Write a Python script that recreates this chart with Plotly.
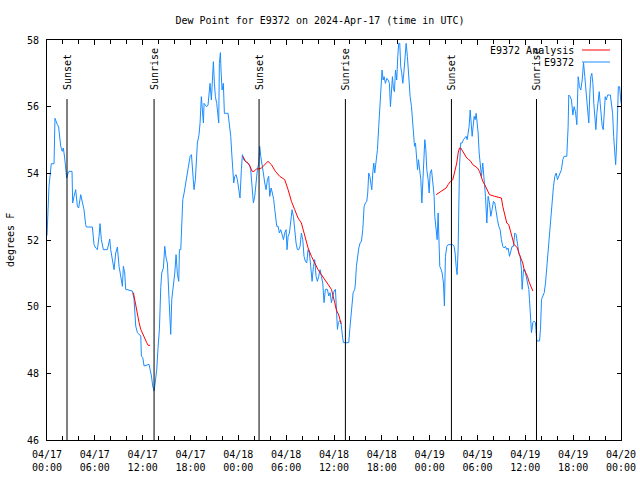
import pandas as pd
import plotly.graph_objects as go

BASE = pd.Timestamp("2024-04-17 00:00")

# Observed dew point (E9372): hours since 2024-04-17 00:00 UTC, degrees F
obs_hours = [
    0.00, 0.13, 0.25, 0.54, 0.88, 1.00, 1.13, 1.30, 1.46, 1.72, 1.92, 2.05, 2.22, 2.34, 2.47, 2.64,
    2.76, 3.14, 3.22, 3.39, 3.60, 3.81, 3.97, 4.23, 4.44, 4.64, 4.85, 4.94, 5.69, 5.90, 6.11, 6.32,
    6.53, 6.65, 6.82, 7.07, 7.57, 7.87, 7.99, 8.20, 8.41, 8.62, 8.83, 9.04, 9.25, 9.46, 9.58, 9.75,
    9.87, 10.71, 10.92, 11.13, 11.34, 11.76, 11.84, 12.01, 12.18, 12.80, 12.93, 13.10, 13.26, 13.43,
    13.60, 13.77, 13.93, 14.10, 14.27, 14.39, 14.60, 14.77, 14.94, 15.10, 15.31, 15.44, 15.52, 15.65,
    15.86, 16.03, 16.19, 16.36, 16.53, 16.61, 16.78, 16.90, 17.03, 17.20, 17.41, 17.62, 17.78, 17.95,
    18.12, 18.32, 18.44, 18.61, 18.74, 18.86, 19.07, 19.20, 19.36, 19.53, 19.62, 19.70, 19.87, 20.03,
    20.20, 20.33, 20.45, 20.62, 20.74, 20.87, 21.00, 21.12, 21.29, 21.41, 21.54, 21.62, 21.75, 21.83,
    21.96, 22.12, 22.25, 22.71, 22.88, 23.05, 23.17, 23.30, 23.42, 23.55, 23.71, 23.88, 24.05, 24.21,
    24.38, 24.51, 24.67, 24.88, 25.14, 25.39, 25.55, 25.72, 25.89, 26.06, 26.22, 26.39, 26.56, 26.68,
    26.81, 26.98, 27.14, 27.31, 27.48, 27.65, 27.81, 27.94, 28.11, 28.27, 28.44, 28.57, 28.69, 28.82,
    28.99, 29.15, 29.32, 29.49, 29.66, 29.82, 29.99, 30.11, 30.24, 30.41, 30.57, 30.74, 30.91, 31.07,
    31.24, 31.41, 31.58, 31.74, 31.91, 32.08, 32.24, 32.41, 32.58, 32.75, 32.91, 33.08, 33.25, 33.42,
    33.58, 33.75, 33.92, 34.08, 34.25, 34.42, 34.59, 34.75, 34.92, 35.17, 35.34, 35.51, 35.68, 35.85,
    36.01, 36.18, 36.30, 36.43, 36.55, 36.68, 36.85, 36.93, 37.06, 37.18, 37.85, 37.98, 38.10, 38.27,
    38.40, 38.60, 38.69, 38.81, 38.94, 39.11, 39.27, 39.44, 39.61, 39.78, 39.94, 40.11, 40.23, 40.36,
    40.49, 40.61, 40.74, 40.86, 40.99, 41.11, 41.28, 41.45, 41.61, 41.78, 41.95, 42.03, 42.16, 42.28,
    42.45, 42.62, 42.79, 42.95, 43.08, 43.20, 43.33, 43.45, 43.58, 43.71, 43.87, 44.00, 44.12, 44.25,
    44.37, 44.50, 44.63, 44.79, 44.92, 45.05, 45.21, 45.38, 45.55, 45.72, 45.85, 45.97, 46.10, 46.22,
    46.35, 46.48, 46.60, 46.73, 46.89, 47.02, 47.14, 47.27, 47.39, 47.52, 47.64, 47.81, 47.94, 48.06,
    48.23, 48.40, 48.56, 48.64, 48.81, 48.94, 49.06, 49.14, 49.27, 49.44, 49.56, 49.73, 49.85, 49.98,
    50.15, 50.31, 50.90, 51.07, 51.19, 51.32, 51.44, 51.57, 51.65, 51.74, 51.90, 52.07, 52.24, 52.40,
    52.57, 52.70, 52.83, 52.95, 53.08, 53.20, 53.33, 53.45, 53.58, 53.71, 53.83, 53.96, 54.08, 54.21,
    54.33, 54.50, 54.66, 54.83, 55.00, 55.17, 55.33, 55.50, 55.67, 55.83, 56.00, 56.17, 56.34, 56.50,
    56.67, 56.84, 57.00, 57.17, 57.34, 57.51, 57.67, 57.84, 58.01, 58.18, 58.34, 58.51, 58.68, 58.85,
    59.01, 59.18, 59.35, 59.51, 59.60, 59.77, 59.94, 60.10, 60.27, 60.44, 60.52, 60.64, 60.77, 60.94,
    61.11, 61.27, 61.36, 61.44, 61.78, 61.90, 62.03, 62.20, 62.37, 62.53, 62.70, 62.87, 63.03, 63.20,
    63.37, 63.53, 63.70, 63.87, 64.03, 64.20, 64.37, 64.53, 64.70, 64.87, 65.20, 65.37, 65.45, 65.62,
    65.79, 65.96, 66.12, 66.29, 66.46, 66.63, 66.79, 66.96, 67.13, 67.30, 67.46, 67.63, 67.80, 67.96,
    68.09, 68.21, 68.34, 68.47, 68.59, 68.72, 68.85, 68.97, 69.14, 69.27, 69.39, 69.52, 69.64, 69.77,
    69.90, 70.02, 70.15, 70.32, 70.66, 70.83, 70.95, 71.08, 71.21, 71.33, 71.46, 71.58, 71.67, 71.83,
    71.92, 72.00,
]
obs_dewpt = [
    52.13, 52.91, 53.61, 54.29, 54.29, 55.65, 55.55, 55.46, 55.39, 54.81, 54.66, 54.76, 54.46, 54.21, 53.86, 54.01,
    54.06, 54.06, 53.11, 53.31, 53.51, 53.01, 52.96, 53.36, 53.11, 52.91, 52.46, 52.39, 52.39, 51.86, 51.76, 51.71,
    52.11, 52.49, 52.01, 51.71, 51.71, 52.03, 51.71, 51.36, 51.11, 51.61, 51.79, 51.21, 50.96, 50.61, 51.21, 51.01,
    50.52, 50.47, 50.22, 49.42, 49.22, 49.12, 48.52, 48.47, 48.22, 48.27, 48.12, 47.92, 47.62, 47.47,
    47.77, 48.12, 48.77, 49.32, 50.57, 51.01, 51.16, 51.81, 51.46, 51.31, 50.22, 49.62, 49.17, 50.22,
    50.61, 51.01, 51.56, 50.96, 50.76, 51.71, 51.71, 52.41, 53.21, 53.41, 53.71, 54.01, 54.21, 54.51,
    54.56, 53.81, 53.51, 53.81, 54.41, 54.91, 55.16, 55.51, 56.30, 55.80, 55.51, 56.10, 56.05, 56.00,
    56.05, 56.30, 56.70, 56.20, 57.00, 57.35, 56.70, 56.30, 56.10, 55.70, 55.51, 57.30, 57.62, 57.10,
    56.50, 56.70, 55.80, 55.80, 55.41, 55.11, 54.61, 54.01, 53.71, 53.91, 53.96, 53.81, 53.51, 53.26,
    54.11, 54.56, 54.41, 54.36, 54.31, 54.26, 54.11, 53.71, 53.11, 53.31, 53.81, 54.11, 54.31, 54.81,
    54.51, 54.31, 54.01, 53.71, 53.51, 53.81, 53.91, 53.31, 53.56, 53.41, 53.21, 52.91, 52.61, 52.41,
    52.41, 52.21, 52.31, 52.11, 52.01, 52.21, 52.31, 51.71, 52.11, 52.21, 52.51, 52.91, 52.71, 52.31,
    51.91, 51.71, 51.71, 51.81, 52.21, 52.01, 51.51, 51.36, 51.31, 51.71, 51.61, 51.21, 50.76, 51.21,
    51.41, 50.91, 50.76, 50.91, 51.11, 50.91, 50.71, 50.12, 50.52, 50.52, 50.32, 50.42, 50.12, 50.32,
    50.47, 50.52, 49.82, 49.32, 49.52, 49.57, 49.57, 49.32, 49.12, 48.92, 48.92, 49.32, 49.72, 50.12,
    50.42, 50.52, 50.71, 51.21, 51.51, 51.76, 51.91, 51.96, 52.31, 53.01, 53.11, 53.16, 53.41, 54.01,
    53.91, 53.71, 53.51, 54.01, 54.31, 54.01, 54.31, 54.71, 55.41, 56.00, 56.60, 57.10, 56.80, 56.90,
    56.70, 56.85, 56.80, 56.70, 56.00, 56.40, 56.90, 56.55, 56.45, 57.10, 56.80, 57.50, 57.90, 57.90,
    57.20, 57.00, 56.70, 57.10, 57.50, 57.90, 57.50, 56.80, 56.30, 56.00, 55.61, 55.01, 54.81, 54.91,
    54.31, 54.11, 54.41, 54.11, 53.81, 53.11, 53.71, 54.41, 55.01, 54.71, 54.11, 53.81, 53.41, 54.01,
    54.11, 53.71, 53.31, 52.71, 52.31, 52.01, 52.81, 52.11, 51.21, 51.11, 51.01, 50.71, 50.02, 51.51,
    51.81, 51.86, 51.86, 51.81, 51.61, 51.21, 50.96, 51.71, 53.21, 54.21, 54.91, 54.91, 55.01, 55.06,
    55.11, 55.01, 55.16, 55.41, 55.90, 55.51, 55.11, 55.41, 55.71, 55.61, 55.80, 55.51, 55.21, 54.61,
    54.21, 53.91, 54.31, 53.81, 53.31, 52.51, 53.31, 53.11, 52.71, 52.91, 53.16, 53.11, 52.81, 52.61,
    52.41, 52.31, 52.01, 51.81, 51.76, 51.81, 51.71, 51.76, 51.51, 51.71, 51.81, 51.81, 52.21, 52.16,
    51.81, 51.61, 51.51, 51.11, 50.52, 51.11, 51.11, 50.91, 50.71, 50.52, 50.22, 49.52, 49.22, 49.52,
    49.57, 49.52, 49.32, 48.97, 48.97, 49.32, 50.22, 50.32, 50.42, 50.71, 51.21, 51.81, 52.21, 52.91,
    53.31, 53.61, 53.91, 54.01, 53.81, 53.91, 54.01, 54.11, 54.41, 54.51, 54.51, 55.41, 56.35, 56.30,
    56.20, 55.75, 56.00, 55.85, 55.46, 56.90, 56.60, 56.50, 56.80, 57.32, 56.90, 56.50, 56.10, 55.51,
    56.40, 56.90, 57.00, 56.70, 56.10, 55.80, 55.31, 55.80, 56.30, 56.45, 56.10, 55.70, 55.41, 55.31,
    56.10, 56.30, 56.20, 56.35, 56.35, 56.10, 55.80, 55.11, 54.61, 54.26, 54.91, 56.10, 56.60, 56.60,
    56.10, 56.10,
]

# Analysis (E9372 Analysis): three segments separated by None
ana_hours = [
    10.84, 11.13, 11.34, 11.55, 11.76, 12.01, 12.26, 12.51, 12.68, 12.93, None,
    24.59, 24.88, 25.22, 25.47, 25.72, 25.97, 26.27, 26.56, 26.89, 27.31, 27.73, 28.15, 28.65, 29.19,
    29.82, 30.24, 30.66, 31.07, 31.49, 31.91, 32.33, 32.75, 33.17, 33.58, 34.00, 34.42, 34.84, 35.26,
    35.68, 36.09, 36.30, 36.60, 36.89, None,
    48.81, 49.14, 49.48, 49.81, 50.06, 50.31, 50.61, 50.90, 51.07, 51.23, 51.40, 51.57, 51.74, 51.90,
    52.15, 52.40, 52.65, 52.91, 53.16, 53.41, 53.75, 54.00, 54.25, 54.41, 54.66, 54.91, 55.17, 55.50,
    56.17, 56.84, 57.00, 57.17, 57.34, 57.51, 57.67, 57.92, 58.09, 58.26, 58.43, 58.59, 58.85, 59.01,
    59.18, 59.35, 59.51, 59.68, 59.85, 60.10, 60.27, 60.44, 60.60, 60.77, 60.94,
]
ana_dewpt = [
    50.42, 50.02, 49.72, 49.52, 49.32, 49.17, 49.02, 48.92, 48.84, 48.84, None,
    54.51, 54.36, 54.31, 54.21, 54.06, 54.06, 54.13, 54.13, 54.16, 54.26, 54.36, 54.26, 54.06, 53.91,
    53.81, 53.51, 53.16, 52.91, 52.66, 52.51, 52.11, 51.76, 51.51, 51.31, 51.11, 50.96, 50.81, 50.66,
    50.52, 50.12, 49.90, 49.75, 49.48, None,
    53.36, 53.41, 53.46, 53.51, 53.56, 53.66, 53.76, 53.81, 53.96, 54.16, 54.31, 54.61, 54.76, 54.76,
    54.66, 54.56, 54.46, 54.41, 54.36, 54.26, 54.21, 54.16, 54.06, 53.91, 53.76, 53.66, 53.51, 53.36,
    53.31, 53.26, 53.26, 53.01, 52.81, 52.66, 52.51, 52.46, 52.31, 52.11, 51.96, 51.86, 51.81, 51.76,
    51.61, 51.51, 51.41, 51.31, 51.11, 51.01, 50.91, 50.76, 50.66, 50.57, 50.47,
]

# Sun events (hours since 2024-04-17 00:00 UTC)
sun_hours = [2.51, 13.43, 26.60, 37.43, 50.73, 61.40]
sun_labels = ["Sunset", "Sunrise", "Sunset", "Sunrise", "Sunset", "Sunrise"]

y_ticks = [46, 48, 50, 52, 54, 56, 58]


def to_time(hours):
    return [None if h is None else BASE + pd.Timedelta(hours=h) for h in hours]


FONT = "DejaVu Sans Mono"
BLUE = "#1a8cff"
RED = "#ff0000"

fig = go.Figure()
fig.add_trace(go.Scatter(x=to_time(obs_hours), y=obs_dewpt, mode="lines",
                         line=dict(color=BLUE, width=1), name="E9372", showlegend=False))
fig.add_trace(go.Scatter(x=to_time(ana_hours), y=ana_dewpt, mode="lines",
                         line=dict(color=RED, width=1), name="E9372 Analysis",
                         showlegend=False, connectgaps=False))

L, R, T, B = 47, 19, 40, 40
W, H = 640, 480
pw, ph = W - L - R, H - T - B

shapes = []
annotations = []
line_top = (440 - 99) / ph
for h, lab in zip(sun_hours, sun_labels):
    t = BASE + pd.Timedelta(hours=h)
    shapes.append(dict(type="line", xref="x", yref="paper", x0=t, x1=t, y0=0, y1=line_top,
                       line=dict(color="black", width=1)))
    annotations.append(dict(x=t, xref="x", y=(440 - 92) / ph, yref="paper", text=lab,
                            textangle=-90, showarrow=False, xanchor="center", yanchor="bottom",
                            font=dict(family=FONT, size=10, color="black")))

# legend (gnuplot style: text then line sample)
leg = [("E9372 Analysis", RED, 50), ("E9372", BLUE, 62)]
for text, col, ypx in leg:
    yp = (440 - ypx) / ph
    annotations.append(dict(x=(576 - L) / pw, xref="paper", y=yp, yref="paper", text=text,
                            showarrow=False, xanchor="right", yanchor="middle",
                            font=dict(family=FONT, size=10, color="black")))
    shapes.append(dict(type="line", xref="paper", yref="paper", x0=(582 - L) / pw,
                       x1=(610 - L) / pw, y0=yp, y1=yp, line=dict(color=col, width=1)))

# y-axis title as rotated text
annotations.append(dict(x=(10 - L) / pw, xref="paper", y=0.5, yref="paper", text="degrees F",
                        textangle=-90, showarrow=False, xanchor="center", yanchor="middle",
                        font=dict(family=FONT, size=10, color="black")))

fig.update_layout(
    width=W, height=H,
    margin=dict(l=L, r=R, t=T, b=B, pad=0, autoexpand=False),
    paper_bgcolor="white", plot_bgcolor="white",
    font=dict(family=FONT, size=10, color="black"),
    title=dict(text="Dew Point for E9372 on 2024-Apr-17 (time in UTC)", x=0.5, xanchor="center",
               y=1 - 20 / H, yanchor="middle", font=dict(family=FONT, size=10)),
    shapes=shapes, annotations=annotations,
    showlegend=False,
)
fig.update_xaxes(
    type="date", range=[BASE, BASE + pd.Timedelta(hours=72)],
    tick0=BASE, dtick=6 * 3600 * 1000, tickformat="%m/%d<br>%H:%M",
    ticks="inside", ticklen=5, tickcolor="black", showline=True, linecolor="black", linewidth=1,
    mirror="allticks", showgrid=False, zeroline=False, automargin=False,
    minor=dict(dtick=2 * 3600 * 1000, tick0=BASE, ticks="inside", ticklen=4, tickcolor="black",
               showgrid=False),
    tickfont=dict(family=FONT, size=10), ticklabelstandoff=5,
)
fig.update_yaxes(
    range=[46, 58], tickvals=y_ticks, ticktext=[str(v) for v in y_ticks],
    ticks="inside", ticklen=4, tickcolor="black", showline=True, linecolor="black", linewidth=1,
    mirror="allticks", showgrid=False, zeroline=False, automargin=False,
    tickfont=dict(family=FONT, size=10), ticklabelstandoff=5,
)

fig.write_html("out.html", config={"displayModeBar": False},
               post_script="document.body.style.margin='0px';")
